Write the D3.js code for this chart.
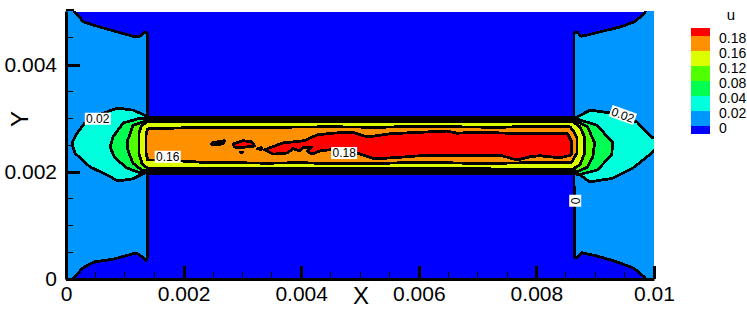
<!DOCTYPE html>
<html><head><meta charset="utf-8">
<script src="https://cdn.jsdelivr.net/npm/d3@7"></script>
<style>html,body{margin:0;padding:0;background:#fff}svg{display:block}text{font-family:"Liberation Sans",Arial,sans-serif;fill:#000}</style>
</head><body><svg id="c" width="747" height="315"></svg>
<script>
// Contour outlines, [x, y] in units of 1e-5
const UNIT = 1e-5;
const level0 = [[-20,520],[15,520],[15,498],[22,490],[29,480],[43,475],[58,470],[87,461],[117,452],[126,453],[133,461],[138,459],[138,302],[864,302],[864,459],[869,461],[876,453],[890,456],[908,461],[942,470],[967,480],[978,490],[985,498],[985,520],[1020,520],[1020,-20],[985,-20],[985,2],[975,12],[964,21],[937,32],[903,43],[877,49],[869,39],[865,41],[864,196],[138,196],[138,39],[136,35],[129,42],[122,47],[114,47],[80,37],[49,32],[37,26],[27,19],[12,0],[12,-20],[-20,-20]];
const level02 = [[138,300],[133,306],[114,315],[88,319],[60,308],[32,291],[20,274],[10,254],[15,235],[41,209],[70,194],[88,183],[114,187],[134,198],[138,198],[864,198],[869,198],[891,181],[930,188],[964,207],[996,235],[1006,247],[1006,265],[998,263],[971,293],[925,310],[891,315],[869,302],[864,300]];
const level04 = [[138,298],[126,300],[97,291],[80,265],[75,246],[83,226],[104,207],[126,198],[138,201],[864,201],[870,194],[903,203],[928,231],[930,254],[903,287],[870,298],[864,298]];
const level08 = [[138,295],[131,293],[114,287],[105,259],[105,241],[114,216],[129,203],[138,203],[864,203],[870,200],[887,209],[896,228],[899,254],[887,284],[870,293],[864,295]];
const level12 = [[138,293],[129,287],[124,272],[124,235],[129,216],[138,207],[862,205],[874,213],[882,235],[882,265],[874,284],[862,293]];
const level16 = [[139,280],[136,269],[136,235],[139,222],[155,222],[199,220],[228,218],[284,217],[342,216],[400,217],[454,215],[546,216],[602,218],[682,216],[738,216],[794,217],[860,218],[869,235],[869,263],[862,278],[857,284],[794,285],[738,283],[653,284],[602,285],[530,283],[454,284],[342,283],[228,283]];
const level18 = [[853,271],[860,256],[859,231],[840,226],[806,230],[789,228],[767,222],[738,231],[709,230],[665,231],[602,230],[580,228],[525,224],[495,235],[449,241],[432,239],[418,233],[410,239],[418,246],[403,246],[398,239],[386,243],[376,235],[352,233],[342,239],[338,241],[359,250],[369,254],[389,256],[405,258],[415,263],[428,269],[452,272],[486,274],[513,265],[551,271],[607,274],[648,276],[665,272],[704,274],[750,272],[806,272]];
const island1 = [[284,252],[301,258],[316,256],[321,248],[304,246],[287,246]];
const island2 = [[248,254],[270,258],[267,252],[248,250]];
const island3 = [[296,237],[300,237],[298,235]];
const island4 = [[326,243],[332,245],[332,241]];

const bands = [
  {pts: level0, color: "#0096ff"},
  {pts: level02, color: "#00ffdc"},
  {pts: level04, color: "#00ff50"},
  {pts: level08, color: "#50ff00"},
  {pts: level12, color: "#dcff00"},
  {pts: level16, color: "#ff9100"},
  {pts: level18, color: "#ff0000"},
  {pts: island1, color: "#ff0000"},
  {pts: island2, color: "#ff9100"},
  {pts: island3, color: "#ff9100"},
  {pts: island4, color: "#ff9100"}
];

const legendLevels = ["0.18","0.16","0.12","0.08","0.04","0.02","0"];
const legendColors = ["#ff0000","#ff9100","#dcff00","#50ff00","#00ff50","#00ffdc","#0096ff","#0000ff"];

const xMajor = [0,0.002,0.004,0.006,0.008,0.01];
const yMajor = [0,0.002,0.004];
const xMinor = [0.0005,0.001,0.0015,0.0025,0.003,0.0035,0.0045,0.005,0.0055,0.0065,0.007,0.0075,0.0085,0.009,0.0095];
const yMinor = [0.0005,0.001,0.0015,0.0025,0.003,0.0035,0.0045];
const yTop = 0.005;

const contourLabels = [
  {t:"0.02", x:54,  y:299, r:0},
  {t:"0.16", x:173, y:228, r:0},
  {t:"0.18", x:473, y:235, r:0},
  {t:"0.02", x:947, y:306, r:20},
  {t:"0",    x:866, y:146, r:90}
];

const svg = d3.select("#c");
const x = d3.scaleLinear().domain([0,0.01]).range([66,654]);
const y = d3.scaleLinear().domain([0,0.005]).range([279,11]);
const line = d3.line().x(d=>x(d[0]*UNIT)).y(d=>y(d[1]*UNIT)).curve(d3.curveLinear);

svg.append("clipPath").attr("id","plot").append("rect")
  .attr("x",x(0)).attr("y",y(0.005)).attr("width",x(0.01)-x(0)).attr("height",y(0)-y(0.005));

const plot = svg.append("g").attr("clip-path","url(#plot)");
plot.append("rect").attr("x",x(0)).attr("y",y(0.005)+1).attr("width",x(0.01)-x(0)).attr("height",y(0)-y(0.005)-1).attr("fill","#0000ff");
plot.selectAll("path.band").data(bands).join("path").attr("class","band")
  .attr("d",d=>line(d.pts)+"Z")
  .attr("fill",d=>d.color).attr("stroke","#000").attr("stroke-width",2.8)
  .attr("stroke-linejoin","round").attr("shape-rendering","crispEdges");

// contour labels
const lab = svg.append("g").selectAll("g").data(contourLabels).join("g")
  .attr("transform",d=>`translate(${x(d.x*UNIT)},${y(d.y*UNIT)}) rotate(${d.r})`);
lab.append("rect").attr("x",d=>d.t==="0"?-6:-13).attr("y",-6).attr("width",d=>d.t==="0"?12:26).attr("height",12).attr("fill","#fff");
lab.append("text").attr("text-anchor","middle").attr("dy","0.36em").attr("font-size",12).text(d=>d.t);

// axes
function styleAxis(g){
  g.selectAll(".domain").attr("stroke","#000").attr("stroke-width",3);
  g.selectAll(".tick line").attr("stroke","#000").attr("stroke-width",3).attr("shape-rendering","crispEdges");
  g.selectAll("text").attr("font-size",21).attr("font-family",'"Liberation Sans",Arial,sans-serif');
}
const fmt = d=>d===0?"0":String(+d.toFixed(4));
const xAxis = d3.axisBottom(x).tickValues(xMajor).tickSizeInner(-13).tickSizeOuter(0).tickPadding(7).tickFormat(fmt);
const yAxis = d3.axisLeft(y).tickValues(yMajor).tickSizeInner(-14).tickSizeOuter(0).tickPadding(9).tickFormat(fmt);
svg.append("g").attr("transform",`translate(0,${y(0)})`).call(xAxis).call(styleAxis);
svg.append("g").attr("transform",`translate(${x(0)},0)`).call(yAxis).call(styleAxis);

const minorX = svg.append("g");
minorX.selectAll("line").data(xMinor).join("line")
  .attr("x1",d=>x(d)).attr("x2",d=>x(d)).attr("y1",y(0)).attr("y2",y(0)-7)
  .attr("stroke","#000").attr("stroke-width",1).attr("shape-rendering","crispEdges");
const minorY = svg.append("g");
minorY.selectAll("line").data(yMinor).join("line")
  .attr("y1",d=>y(d)).attr("y2",d=>y(d)).attr("x1",x(0)).attr("x2",x(0)+7)
  .attr("stroke","#000").attr("stroke-width",1).attr("shape-rendering","crispEdges");
svg.append("line").attr("x1",x(0)).attr("x2",x(0)+8).attr("y1",y(yTop)-1).attr("y2",y(yTop)-1)
  .attr("stroke","#000").attr("stroke-width",2).attr("shape-rendering","crispEdges");

svg.append("text").attr("x",361).attr("y",304).attr("text-anchor","middle").attr("font-size",24).text("X");
svg.append("text").attr("transform","translate(28,119) rotate(-90)").attr("text-anchor","middle").attr("font-size",24).text("Y");

// legend
const ly = d3.scalePoint().domain(legendLevels).range([36,126]);
const step = ly.step();
const leg = svg.append("g");
leg.selectAll("rect").data(legendColors).join("rect")
  .attr("x",691).attr("width",19)
  .attr("y",(d,i)=> i===0 ? 28 : ly(legendLevels[i-1]))
  .attr("height",(d,i)=> i===0 ? 8 : (i===legendColors.length-1 ? 8 : step))
  .attr("fill",d=>d).attr("shape-rendering","crispEdges");
leg.selectAll("text").data(legendLevels).join("text")
  .attr("x",719).attr("y",d=>ly(d)+2).attr("dy","0.36em").attr("font-size",14).text(d=>d);
svg.append("text").attr("x",731).attr("y",20).attr("text-anchor","middle").attr("font-size",15).text("u");
</script></body></html>
